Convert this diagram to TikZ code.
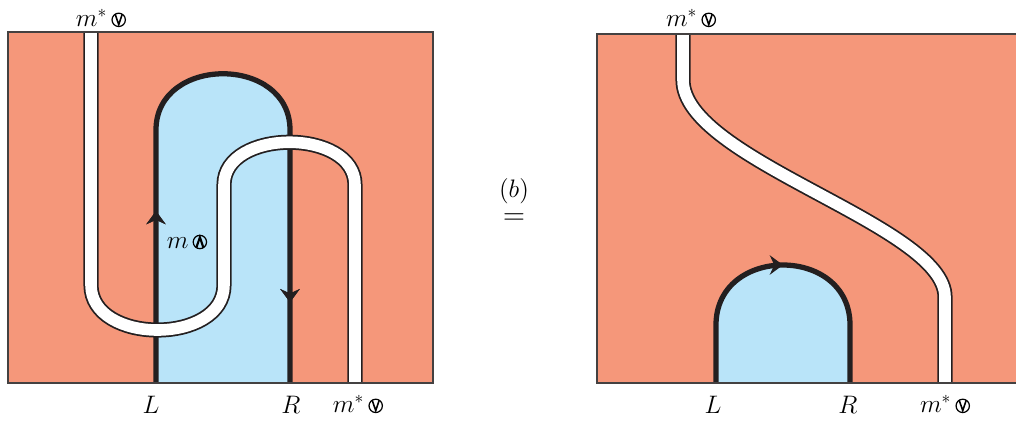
\documentclass[tikz,border=0pt]{standalone}
\usepackage{xcolor}
\usepackage{tikz}
\usetikzlibrary{arrows.meta, decorations.markings}
\definecolor{salmon}{HTML}{F5977A}
\definecolor{sky}{HTML}{B9E4F9}
\definecolor{ink}{HTML}{231F20}

% little circled marks next to the labels
\newcommand{\downmark}{\tikz[baseline=-0.6ex, line width=0.7pt]{\draw (0,0) circle (3.8pt); \draw[line width=0.9pt] (-2pt,3.2pt) -- (0,-2.7pt) -- (2pt,3.2pt);}}
\newcommand{\upmark}{\tikz[baseline=-0.6ex, line width=0.7pt]{\draw (0,0) circle (3.8pt); \draw[line width=1.2pt] (-2pt,-3.2pt) -- (0,2.7pt) -- (2pt,-3.2pt);}}

\begin{document}
\begin{tikzpicture}[x=0.02cm, y=-0.02cm,
  frame/.style={draw=ink!85, line width=1.2pt},
  wire/.style={draw=ink, line width=3pt},
  strand/.style={draw=ink, line width=8.6pt, postaction={draw=white, line width=6.6pt}},
  lbl/.style={font=\fontsize{14}{16}\selectfont, inner sep=1pt},
  flowmarks/.style={postaction={decorate}, decoration={markings, mark=at position #1 with {\arrow{Stealth[length=7.5pt, width=11pt, inset=2.5pt]}}}}]
  \useasboundingbox (0,0) rectangle (1016,420);
  \clip (0,0) rectangle (1016,420);

  % left panel
  \fill[salmon] (8,32) rectangle (433,383);
  \fill[sky] (156,383) -- (156,130) .. controls (156,55) and (290,55) .. (290,130) -- (290,383) -- cycle;
  \draw[wire, flowmarks=0.245, flowmarks=0.885] (156,383) -- (156,130) .. controls (156,55) and (290,55) .. (290,130) -- (290,383);
  \draw[strand] (91,32) -- (91,285) .. controls (91,345) and (224,345) .. (224,285) -- (224,185) .. controls (224,128) and (355,128) .. (355,185) -- (355,383);
  \draw[frame] (8,32) rectangle (433,383);

  \node[lbl] (topleft) at (101,18) {$m^{*}$\,\downmark};
  \node[lbl] (midleft) at (187,242) {$m$\,\upmark};
  \node[lbl] (Lleft) at (151,405) {$L$};
  \node[lbl] (Rleft) at (291,405) {$R$};
  \node[lbl] (botleft) at (358,404) {$m^{*}$\,\downmark};

  % move (b)
  \node[inner sep=0pt, font=\fontsize{15}{17}\selectfont] (moveb) at (514,191) {$(b)$};
  \node[inner sep=0pt, font=\fontsize{16}{18}\selectfont] (equal) at (514,219) {$=$};

  % right panel
  \fill[salmon] (597,34) rectangle (1030,383);
  \fill[sky] (716,383) -- (716,325) .. controls (716,245) and (850,245) .. (850,325) -- (850,383) -- cycle;
  \draw[wire, flowmarks=0.5] (716,383) -- (716,325) .. controls (716,245) and (850,245) .. (850,325) -- (850,383);
  \draw[strand] (683,34) -- (683,80) .. controls (683,160) and (945,225) .. (945,297) -- (945,383);
  \draw[frame] (597,34) rectangle (1030,383);

  \node[lbl] (topright) at (691,18) {$m^{*}$\,\downmark};
  \node[lbl] (Lright) at (713,405) {$L$};
  \node[lbl] (Rright) at (848,405) {$R$};
  \node[lbl] (botright) at (945,404) {$m^{*}$\,\downmark};
\end{tikzpicture}
\end{document}
